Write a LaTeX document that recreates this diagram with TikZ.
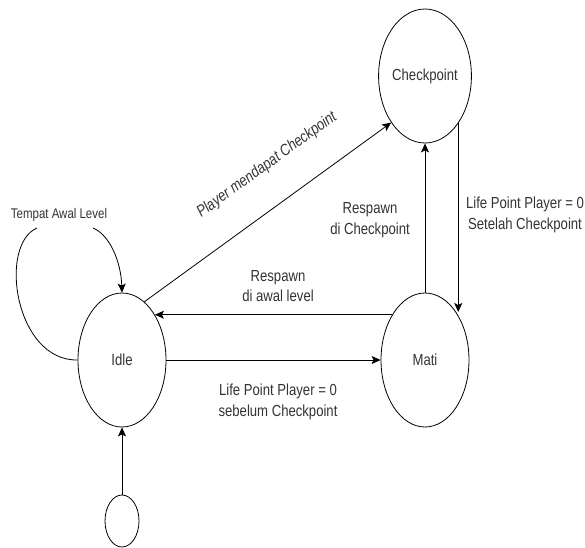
\documentclass[tikz,border=0pt]{standalone}
\usepackage{fontspec}
\setmainfont[FakeStretch=0.82]{Liberation Sans}
\usetikzlibrary{shapes.geometric,arrows.meta}
\begin{document}
\begin{tikzpicture}[x=1pt,y=-1pt,
  state/.style={draw, ellipse, line width=0.8pt, inner sep=0pt, minimum width=88pt, minimum height=134pt, font=\fontsize{16}{20}\selectfont, text=black!80},
  lbl/.style={align=center, inner sep=1pt, font=\fontsize{16}{20.5}\selectfont, text=black!80},
  arr/.style={line width=0.8pt, -{Stealth[length=9pt,width=8pt,inset=2pt]}},
  plain/.style={line width=0.8pt}]
\useasboundingbox (0,0) rectangle (585,547);
% states
\node[state, minimum width=86pt] (cp) at (425,76) {Checkpoint};
\node[state] (idle) at (122,360) {Idle};
\node[state] (mati) at (425,360) {Mati};
\node[draw, ellipse, line width=0.8pt, inner sep=0pt, minimum width=34pt, minimum height=52pt] (init) at (122,521) {};
% initial
\draw[arr] (init) -- (idle);
% idle -> mati
\draw[arr] (idle) -- (mati);
\node[lbl] (l_sebelum) at (278,402) {Life Point Player = 0\\sebelum Checkpoint};
% mati -> idle
\draw[arr] (mati.126) -- (idle.54);
\node[lbl] (l_awal) at (278,286) {Respawn\\di awal level};
% mati -> checkpoint
\draw[arr] (mati) -- (cp);
\node[lbl] (l_respcp) at (370,220) {Respawn\\di Checkpoint};
% checkpoint -> mati
\draw[arr] (cp.305) -- (cp.305 |- mati.57);
\node[lbl] (l_setelah) at (525,215) {Life Point Player = 0\\Setelah Checkpoint};
% idle -> checkpoint
\draw[arr] (idle.69.5) -- (cp.234);
\node[lbl, font=\fontsize{16}{20}\selectfont\itshape, rotate=36] (l_player) at (267,165) {Player mendapat Checkpoint};
% self loop
\node[lbl, font=\fontsize{14}{17}\selectfont] (tal) at (59,215) {Tempat Awal Level};
\coordinate (la) at (37,228);
\coordinate (lb) at (93,228);
\draw[plain] (idle.west) .. controls (15,361) and (-2,245) .. (la);
\draw[arr] (lb) .. controls (110,235) and (121,262) .. (idle.north);
\end{tikzpicture}
\end{document}
